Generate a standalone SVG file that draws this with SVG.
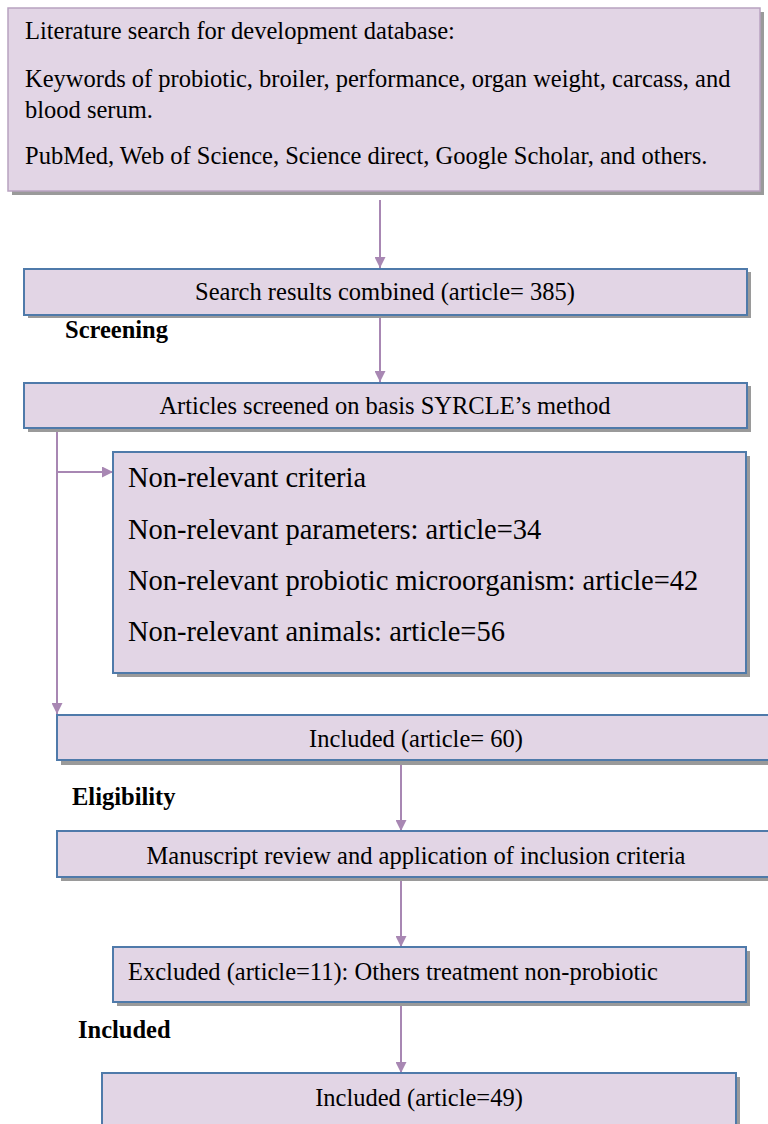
<svg xmlns="http://www.w3.org/2000/svg" width="768" height="1124" viewBox="0 0 768 1124">
<style>
.box{fill:#e2d5e5;stroke:#4f7aaa;stroke-width:2}
.top{fill:#e2d5e5;stroke:#b8a2c0;stroke-width:1.5}
.sh{fill:#9a9a9a}
.t{font-family:"Liberation Serif",serif;font-size:24.5px;fill:#000}
.tc{font-family:"Liberation Serif",serif;font-size:24.5px;fill:#000;text-anchor:middle}
.tl{font-family:"Liberation Serif",serif;font-size:28.5px;fill:#000}
.b{font-family:"Liberation Serif",serif;font-size:24.5px;font-weight:bold;fill:#000}
.c{stroke:#a887b3;stroke-width:2;fill:none}
</style>
<defs>
<marker id="ah2" viewBox="0 0 10 10" refX="10" refY="5" markerWidth="11" markerHeight="11" orient="auto" markerUnits="userSpaceOnUse">
<path d="M0,0 L10,5 L0,10 z" fill="#a887b3"/>
</marker>
</defs>
<g id="connectors">
<line class="c" x1="380" y1="200" x2="380" y2="268" marker-end="url(#ah2)"/>
<line class="c" x1="380" y1="316" x2="380" y2="382" marker-end="url(#ah2)"/>
<line class="c" x1="57" y1="429" x2="57" y2="714" marker-end="url(#ah2)"/>
<line class="c" x1="57" y1="472" x2="113" y2="472" marker-end="url(#ah2)"/>
<line class="c" x1="401" y1="762" x2="401" y2="831" marker-end="url(#ah2)"/>
<line class="c" x1="401" y1="878" x2="401" y2="947" marker-end="url(#ah2)"/>
<line class="c" x1="401" y1="1003" x2="401" y2="1073" marker-end="url(#ah2)"/>
</g>
<g id="n1">
<rect class="sh" x="12" y="12" width="752" height="183"/>
<rect class="top" x="8" y="8" width="752" height="183"/>
<text class="t" x="25" y="39">Literature search for development database:</text>
<text class="t" x="25" y="87">Keywords of probiotic, broiler, performance, organ weight, carcass, and</text>
<text class="t" x="25" y="118">blood serum.</text>
<text class="t" x="25" y="164">PubMed, Web of Science, Science direct, Google Scholar, and others.</text>
</g>
<g id="n2">
<rect class="sh" x="28" y="272" width="723" height="46"/>
<rect class="box" x="24" y="269" width="723" height="46"/>
<text class="tc" x="385" y="300">Search results combined (article= 385)</text>
</g>
<text class="b" x="65" y="338">Screening</text>
<g id="n3">
<rect class="sh" x="28" y="386" width="723" height="46"/>
<rect class="box" x="24" y="383" width="723" height="45"/>
<text class="tc" x="385" y="414">Articles screened on basis SYRCLE’s method</text>
</g>
<g id="n4">
<rect class="sh" x="117" y="456" width="633" height="221"/>
<rect class="box" x="113" y="452" width="633" height="221"/>
<text class="tl" x="128" y="487">Non-relevant criteria</text>
<text class="tl" x="128" y="539">Non-relevant parameters: article=34</text>
<text class="tl" x="128" y="590">Non-relevant probiotic microorganism: article=42</text>
<text class="tl" x="128" y="641">Non-relevant animals: article=56</text>
</g>
<g id="n5">
<rect class="sh" x="61" y="719" width="712" height="46"/>
<rect class="box" x="57" y="715" width="712" height="45"/>
<text class="tc" x="416" y="747">Included (article= 60)</text>
</g>
<text class="b" x="72" y="805">Eligibility</text>
<g id="n6">
<rect class="sh" x="61" y="835" width="712" height="46"/>
<rect class="box" x="57" y="831" width="712" height="46"/>
<text class="tc" x="416" y="864">Manuscript review and application of inclusion criteria</text>
</g>
<g id="n7">
<rect class="sh" x="117" y="951" width="633" height="55"/>
<rect class="box" x="113" y="947" width="633" height="55"/>
<text class="t" x="128" y="980">Excluded (article=11): Others treatment non-probiotic</text>
</g>
<text class="b" x="78" y="1038">Included</text>
<g id="n8">
<rect class="sh" x="106" y="1077" width="634" height="60"/>
<rect class="box" x="102" y="1073" width="634" height="60"/>
<text class="tc" x="419" y="1106">Included (article=49)</text>
</g>
</svg>
